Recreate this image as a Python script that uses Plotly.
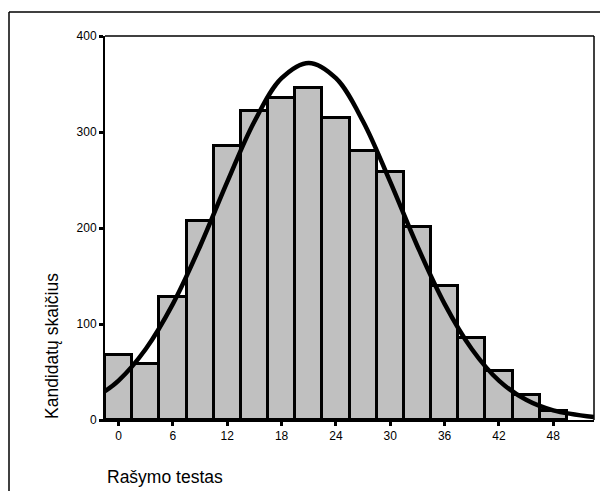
import plotly.graph_objects as go

# Histogram bins (centres) and counts
bin_centers = [0, 3, 6, 9, 12, 15, 18, 21, 24, 27, 30, 33, 36, 39, 42, 45, 48]
counts = [68, 58, 128, 207, 285, 322, 335, 346, 315, 280, 258, 201, 140, 85, 51, 26, 9]

# Fitted normal curve
curve_x = [-1.5, 0, 3, 6, 9, 12, 15, 18, 21, 24, 27, 30, 33, 36, 39, 42, 45, 48, 52.5]
curve_y = [30, 41, 74, 121, 181, 248, 311, 356, 372, 356, 311, 248, 181, 121, 74, 41, 21, 10, 3]

x_ticks = [0, 6, 12, 18, 24, 30, 36, 42, 48]
y_ticks = [0, 100, 200, 300, 400]

FONT = "Liberation Sans, Arial, sans-serif"

fig = go.Figure()
fig.add_trace(go.Bar(
    x=bin_centers, y=counts, width=3,
    marker=dict(color="#c0c0c0", line=dict(color="black", width=3)),
    showlegend=False,
))
fig.add_trace(go.Scatter(
    x=curve_x, y=curve_y, mode="lines",
    line=dict(color="black", width=4.5, shape="spline"),
    showlegend=False, cliponaxis=True,
))

OFF = 8  # page body margin
W, H = 608 - OFF, 491 - OFF
# plot area in screen pixels: x 105..594, y 36..420
L, R, T, B = 105 - OFF, W - (594 - OFF), 36 - OFF, H - (420 - OFF)
pw, ph = W - L - R, H - T - B

def px(sx):
    return (sx - OFF - L) / pw

def py(sy):
    return (H - B - (sy - OFF)) / ph

fig.update_layout(
    width=W, height=H,
    margin=dict(l=L, r=R, t=T, b=B),
    paper_bgcolor="white", plot_bgcolor="white",
    font=dict(family=FONT, color="black", size=12),
    bargap=0,
    xaxis=dict(
        range=[-1.5, 52.5], tickvals=x_ticks, ticktext=[str(v) for v in x_ticks],
        showgrid=False, zeroline=False, showline=True, linecolor="black", linewidth=2,
        ticks="outside", ticklen=4, tickwidth=3, tickcolor="black",
        tickfont=dict(size=12),
    ),
    yaxis=dict(
        range=[0, 400], tickvals=y_ticks, ticktext=[str(v) for v in y_ticks],
        showgrid=False, zeroline=False, showline=True, linecolor="black", linewidth=2,
        ticks="outside", ticklen=4, tickwidth=3, tickcolor="black",
        tickfont=dict(size=12), ticklabelstandoff=0,
    ),
    shapes=[
        # thin top and right frame of plot area
        dict(type="line", xref="paper", yref="paper", x0=0, x1=1, y0=1, y1=1,
             line=dict(color="black", width=1.5)),
        dict(type="line", xref="paper", yref="paper", x0=1, x1=1, y0=0, y1=1,
             line=dict(color="black", width=1.5)),
        # outer chart frame (top and left)
        dict(type="line", xref="paper", yref="paper", x0=px(9), x1=px(620), y0=py(12), y1=py(12),
             line=dict(color="black", width=1.5)),
        dict(type="line", xref="paper", yref="paper", x0=px(9), x1=px(9), y0=py(12), y1=py(500),
             line=dict(color="black", width=1.5)),
    ],
    annotations=[
        dict(text="Kandidatų skaičius", xref="paper", yref="paper",
             x=px(52), y=py(346), xanchor="center", yanchor="middle",
             textangle=-90, showarrow=False, font=dict(size=17.5)),
        dict(text="Rašymo testas", xref="paper", yref="paper",
             x=px(105), y=py(477), xanchor="left", yanchor="middle",
             showarrow=False, font=dict(size=17.5)),
    ],
)

fig.write_html("out.html")
